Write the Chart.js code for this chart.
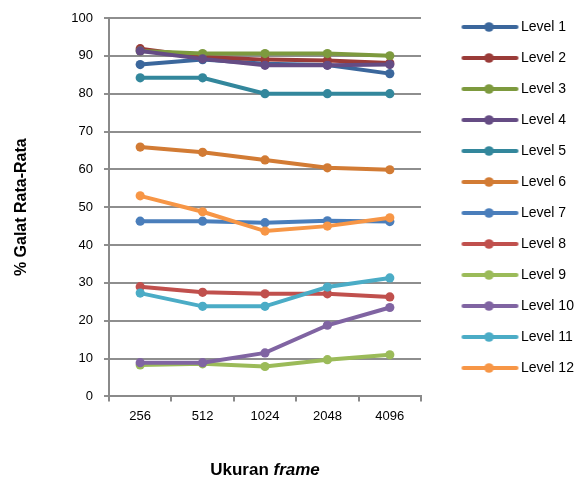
<!DOCTYPE html>
<html>
<head>
<meta charset="utf-8">
<script src="https://cdn.jsdelivr.net/npm/chart.js@4/dist/chart.umd.min.js"></script>
<style>
  html, body { margin: 0; padding: 0; background: #fff; }
  #wrap { width: 581px; height: 483px; }
</style>
</head>
<body>
<div id="wrap"><canvas id="galatChart" width="581" height="483"></canvas></div>
<script>
// Ukuran frame vs % galat rata-rata
const categories = ['256', '512', '1024', '2048', '4096'];
const seriesNames = ['Level 1', 'Level 2', 'Level 3', 'Level 4', 'Level 5', 'Level 6',
  'Level 7', 'Level 8', 'Level 9', 'Level 10', 'Level 11', 'Level 12'];
const level1 = [87.7, 89.0, 87.9, 87.6, 85.3];
const level2 = [91.9, 89.7, 89.0, 88.8, 88.1];
const level3 = [91.3, 90.6, 90.6, 90.6, 90.0];
const level4 = [91.3, 89.2, 87.5, 87.5, 87.7];
const level5 = [84.2, 84.2, 80.0, 80.0, 80.0];
const level6 = [65.9, 64.5, 62.5, 60.4, 59.9];
const level7 = [46.3, 46.3, 45.9, 46.4, 46.2];
const level8 = [29.0, 27.5, 27.1, 27.1, 26.3];
const level9 = [8.3, 8.6, 7.9, 9.7, 11.0];
const level10 = [8.9, 8.9, 11.5, 18.8, 23.5];
const level11 = [27.3, 23.8, 23.8, 28.9, 31.3];
const level12 = [53.0, 48.8, 43.7, 45.0, 47.2];
const seriesValues = [level1, level2, level3, level4, level5, level6,
  level7, level8, level9, level10, level11, level12];
const seriesColors = ['#3b679c', '#9a3b38', '#7d9a3e', '#654c84', '#33879c', '#d27b34',
  '#4a7ebb', '#c0504d', '#9bbb59', '#8064a2', '#4bacc6', '#f79646'];

Chart.defaults.font.family = "'Liberation Sans', Arial, sans-serif";
Chart.defaults.color = '#000';

// legend marker: line with a dot, as an image
function legendMarker(color) {
  const c = document.createElement('canvas');
  c.width = 93;
  c.height = 14;
  const g = c.getContext('2d');
  g.strokeStyle = color;
  g.lineWidth = 4;
  g.lineCap = 'round';
  g.beginPath();
  g.moveTo(34, 7);
  g.lineTo(87, 7);
  g.stroke();
  g.fillStyle = color;
  g.beginPath();
  g.arc(59.5, 7, 4.8, 0, Math.PI * 2);
  g.fill();
  return c;
}

const datasets = seriesNames.map((name, i) => ({
  label: name,
  data: seriesValues[i],
  borderColor: seriesColors[i],
  backgroundColor: seriesColors[i],
  borderWidth: 4,
  pointRadius: 4.6,
  pointHoverRadius: 4.6,
  pointBorderWidth: 0,
  tension: 0,
  order: seriesNames.length - i,
}));

const xTitle = {
  id: 'xTitle',
  afterDraw(chart) {
    const ctx = chart.ctx;
    const area = chart.chartArea;
    const cx = (area.left + area.right) / 2;
    const y = chart.height - 13;
    const f1 = "bold 17px 'Liberation Sans', Arial, sans-serif";
    const f2 = "italic bold 17px 'Liberation Sans', Arial, sans-serif";
    ctx.save();
    ctx.font = f1;
    const w1 = ctx.measureText('Ukuran ').width;
    ctx.font = f2;
    const w2 = ctx.measureText('frame').width;
    let x = cx - (w1 + w2) / 2;
    ctx.fillStyle = '#000';
    ctx.textBaseline = 'middle';
    ctx.textAlign = 'left';
    ctx.font = f1;
    ctx.fillText('Ukuran ', x, y);
    ctx.font = f2;
    ctx.fillText('frame', x + w1, y);
    ctx.restore();
  }
};

const ctx = document.getElementById('galatChart');
new Chart(ctx, {
  type: 'line',
  data: { labels: categories, datasets: datasets },
  plugins: [xTitle],
  options: {
    responsive: false,
    animation: false,
    events: [],
    layout: { padding: { left: 8, top: 3, right: 0, bottom: 52 } },
    plugins: {
      tooltip: { enabled: false },
      legend: {
        position: 'right',
        align: 'start',
        maxWidth: 160,
        labels: {
          usePointStyle: true,
          pointStyleWidth: 76,
          padding: 17,
          font: { size: 14 },
          color: '#000',
          generateLabels(chart) {
            return chart.data.datasets.map((ds, i) => ({
              text: ds.label,
              pointStyle: legendMarker(ds.borderColor),
              fillStyle: ds.borderColor,
              strokeStyle: ds.borderColor,
              lineWidth: 0,
              hidden: false,
              datasetIndex: i,
            }));
          }
        }
      }
    },
    scales: {
      x: {
        offset: true,
        grid: {
          offset: true,
          drawOnChartArea: false,
          drawTicks: true,
          tickLength: 5,
          color: '#8a8a8a',
          lineWidth: 2,
        },
        border: { color: '#8a8a8a', width: 2 },
        ticks: { font: { size: 13 }, padding: 7, color: '#000' },
      },
      y: {
        min: 0,
        max: 100,
        afterFit(scale) {
          scale.width = 101;
          scale.paddingTop = 18;
        },
        ticks: { stepSize: 10, font: { size: 13 }, padding: 11, color: '#000' },
        grid: { color: '#8e8e8e', lineWidth: 2, tickLength: 5 },
        border: { color: '#8a8a8a', width: 2 },
        title: {
          display: true,
          text: '% Galat Rata-Rata',
          font: { size: 16, weight: 'bold' },
          color: '#000',
          padding: { top: 4, bottom: 4 },
        },
      }
    }
  }
});
</script>
</body>
</html>
